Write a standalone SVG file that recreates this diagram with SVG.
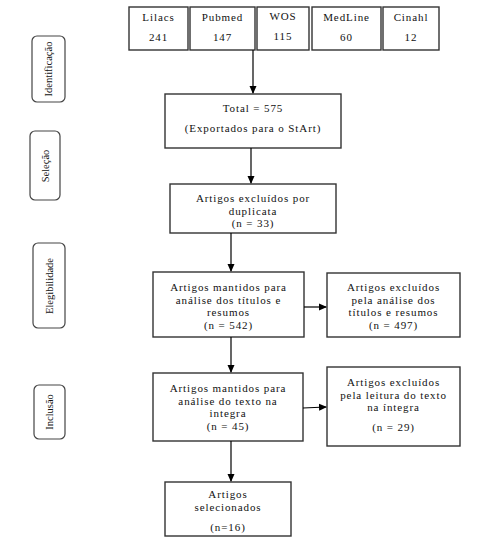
<svg xmlns="http://www.w3.org/2000/svg" width="479" height="544" viewBox="0 0 479 544" font-family="'Liberation Serif', 'Times New Roman', serif">
<defs>
<marker id="arr" markerWidth="8" markerHeight="8" refX="7" refY="4" orient="auto" markerUnits="userSpaceOnUse">
<path d="M0,0.5 L8,4 L0,7.5 Z" fill="#000"/>
</marker>
<style>
.b{fill:#fff;stroke:#333;stroke-width:1.4}
.r{fill:#fff;stroke:#444;stroke-width:1.2}
text{font-family:'Liberation Serif','Times New Roman',serif;fill:#111;text-anchor:middle}
.t{font-size:11px;letter-spacing:0.9px}
.s{font-size:10.5px}
.c{stroke:#000;stroke-width:1.2;fill:none}
</style>
</defs>
<rect width="479" height="544" fill="#fff"/>

<g id="lbl-identificacao"><rect class="r" x="32" y="36" width="33" height="66" rx="5"/><text class="s" transform="translate(52,69) rotate(-90)">Identificação</text></g>
<g id="lbl-selecao"><rect class="r" x="30" y="131" width="30" height="69" rx="5"/><text class="s" transform="translate(49,166) rotate(-90)">Seleção</text></g>
<g id="lbl-elegibilidade"><rect class="r" x="33" y="243" width="32" height="85" rx="5"/><text class="s" transform="translate(53,286) rotate(-90)">Elegibilidade</text></g>
<g id="lbl-inclusao"><rect class="r" x="34" y="385" width="31" height="54" rx="5"/><text class="s" transform="translate(53,412) rotate(-90)">Inclusão</text></g>

<g id="lilacs"><rect class="b" x="129" y="7" width="59" height="43"/><text class="t" x="158.5" y="21">Lilacs</text><text class="t" x="158.5" y="41">241</text></g>
<g id="pubmed"><rect class="b" x="190" y="7" width="65" height="43"/><text class="t" x="222.5" y="21">Pubmed</text><text class="t" x="222.5" y="41">147</text></g>
<g id="wos"><rect class="b" x="257" y="7" width="52" height="43"/><text class="t" x="283" y="20">WOS</text><text class="t" x="283" y="40">115</text></g>
<g id="medline"><rect class="b" x="312" y="7" width="69" height="43"/><text class="t" x="346.5" y="21">MedLine</text><text class="t" x="346.5" y="41">60</text></g>
<g id="cinahl"><rect class="b" x="383" y="7" width="56" height="43"/><text class="t" x="411" y="21">Cinahl</text><text class="t" x="411" y="41">12</text></g>

<g id="total"><rect class="b" x="165" y="94" width="176" height="54"/><text class="t" x="253" y="112">Total = 575</text><text class="t" x="253" y="132">(Exportados para o StArt)</text></g>

<g id="duplicata"><rect class="b" x="170" y="184" width="166" height="49"/><text class="t" x="253" y="202">Artigos excluídos por</text><text class="t" x="253" y="215">duplicata</text><text class="t" x="253" y="227">(n = 33)</text></g>

<g id="mantidos1"><rect class="b" x="153" y="272" width="151" height="65"/><text class="t" x="228.5" y="291">Artigos mantidos para</text><text class="t" x="228.5" y="304">análise dos títulos e</text><text class="t" x="228.5" y="316">resumos</text><text class="t" x="228.5" y="329">(n = 542)</text></g>

<g id="excluidos1"><rect class="b" x="327" y="273" width="133" height="64"/><text class="t" x="393.5" y="291">Artigos excluídos</text><text class="t" x="393.5" y="304">pela análise dos</text><text class="t" x="393.5" y="316">títulos e resumos</text><text class="t" x="393.5" y="329">(n = 497)</text></g>

<g id="mantidos2"><rect class="b" x="153" y="373" width="150" height="68"/><text class="t" x="228" y="392">Artigos mantidos para</text><text class="t" x="228" y="405">análise do texto na</text><text class="t" x="228" y="417">integra</text><text class="t" x="228" y="430">(n = 45)</text></g>

<g id="excluidos2"><rect class="b" x="327" y="367" width="133" height="79"/><text class="t" x="393.5" y="386">Artigos excluídos</text><text class="t" x="393.5" y="399">pela leitura do texto</text><text class="t" x="393.5" y="411">na íntegra</text><text class="t" x="393.5" y="431">(n = 29)</text></g>

<g id="selecionados"><rect class="b" x="165" y="482" width="126" height="54"/><text class="t" x="228" y="498">Artigos</text><text class="t" x="228" y="511">selecionados</text><text class="t" x="228" y="531">(n=16)</text></g>

<g id="connectors">
<line class="c" x1="253" y1="50" x2="253" y2="93" marker-end="url(#arr)"/>
<line class="c" x1="251" y1="148" x2="251" y2="183" marker-end="url(#arr)"/>
<line class="c" x1="231" y1="233" x2="231" y2="271" marker-end="url(#arr)"/>
<line class="c" x1="304" y1="307" x2="326" y2="307" marker-end="url(#arr)"/>
<line class="c" x1="231" y1="337" x2="231" y2="372" marker-end="url(#arr)"/>
<line class="c" x1="303" y1="408" x2="326" y2="407" marker-end="url(#arr)"/>
<line class="c" x1="231" y1="441" x2="231" y2="481" marker-end="url(#arr)"/>
</g>
</svg>
